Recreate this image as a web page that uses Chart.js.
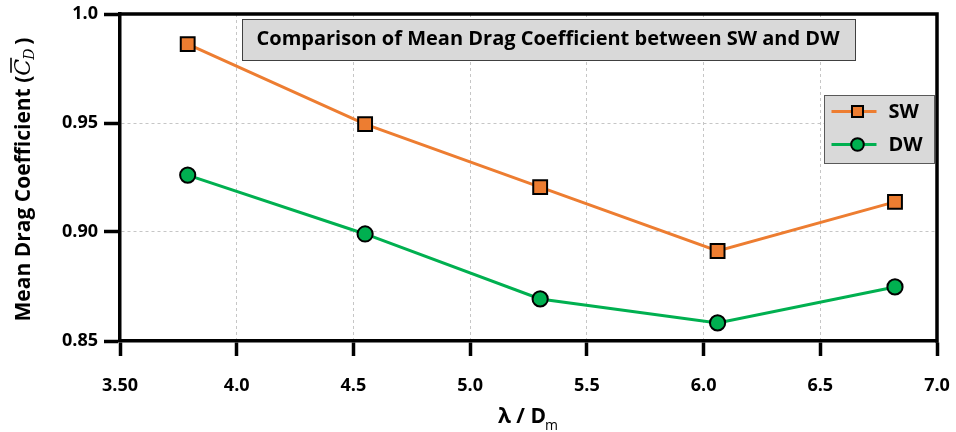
<!DOCTYPE html>
<html>
<head>
<meta charset="utf-8">
<script src="https://cdn.jsdelivr.net/npm/chart.js@4.4.1/dist/chart.umd.min.js"></script>
<style>
html, body { margin: 0; padding: 0; background: #fff; }
#wrap { width: 956px; height: 432px; }
</style>
</head>
<body>
<div id="wrap"><canvas id="dragChart" width="956" height="432"></canvas></div>
<script>
// Mean drag coefficient vs. wavelength ratio
const lambdaRatio = [3.79, 4.55, 5.30, 6.06, 6.82];
const swDrag = [0.9862, 0.9495, 0.9206, 0.8913, 0.9138];
const dwDrag = [0.9261, 0.8991, 0.8693, 0.8583, 0.8748];
const seriesNames = ['SW', 'DW'];

const xTickValues = [3.5, 4.0, 4.5, 5.0, 5.5, 6.0, 6.5, 7.0];
const xTickLabels = ['3.50', '4.0', '4.5', '5.0', '5.5', '6.0', '6.5', '7.0'];
const yTickValues = [0.85, 0.90, 0.95, 1.0];
const yTickLabels = ['0.85', '0.90', '0.95', '1.0'];

const chartTitle = 'Comparison of Mean Drag Coefficient between SW and DW';

const FONT = '"Open Sans", "DejaVu Sans", sans-serif';
const ORANGE = '#ED7D31';
const GREEN = '#00B050';
const AXIS_W = 3.5;

function toPoints(xs, ys) {
    return xs.map((x, i) => ({ x: x, y: ys[i] }));
}

// keep the plot box fixed: the layout padding alone decides the chart area
function fixScaleSize(prop, size) {
    return function(scale) {
        scale[prop] = size;
        scale.paddingLeft = scale.paddingRight = 0;
        scale.paddingTop = scale.paddingBottom = 0;
    };
}

// frame, title box, legend box and axis titles
const decorations = {
    id: 'decorations',
    afterDraw(chart) {
        const ctx = chart.ctx;
        const a = chart.chartArea;
        ctx.save();

        // top and right edges of the frame
        ctx.strokeStyle = '#000';
        ctx.lineWidth = AXIS_W;
        ctx.beginPath();
        ctx.moveTo(a.left - AXIS_W / 2, a.top);
        ctx.lineTo(a.right, a.top);
        ctx.lineTo(a.right, a.bottom + AXIS_W / 2);
        ctx.stroke();

        // title box
        ctx.font = 'bold 20px ' + FONT;
        const tw = ctx.measureText(chartTitle).width;
        const cx = a.left + 428;
        const bw = Math.round(tw + 30);
        const bx = Math.round(cx - bw / 2) + 0.5;
        const by = a.top + 5.5;
        ctx.fillStyle = '#d9d9d9';
        ctx.fillRect(bx, by, bw, 41);
        ctx.strokeStyle = '#404040';
        ctx.lineWidth = 1;
        ctx.strokeRect(bx, by, bw, 41);
        ctx.fillStyle = '#000';
        ctx.textAlign = 'center';
        ctx.textBaseline = 'middle';
        ctx.fillText(chartTitle, cx, by + 20);

        // legend box
        const lx = a.right - 112.5, ly = a.top + 81.5;
        ctx.fillStyle = '#d9d9d9';
        ctx.fillRect(lx, ly, 110, 68);
        ctx.strokeStyle = '#595959';
        ctx.strokeRect(lx, ly, 110, 68);
        chart.data.datasets.forEach((ds, i) => {
            const y = ly + 16 + i * 33;
            ctx.strokeStyle = ds.borderColor;
            ctx.lineWidth = 3;
            ctx.beginPath();
            ctx.moveTo(lx + 7, y);
            ctx.lineTo(lx + 52, y);
            ctx.stroke();
            ctx.fillStyle = ds.pointBackgroundColor;
            ctx.strokeStyle = '#000';
            ctx.lineWidth = 2;
            Chart.helpers.drawPoint(ctx, {
                pointStyle: ds.pointStyle,
                radius: ds.pointStyle === 'rect' ? 7.8 : 6.3,
                borderWidth: 2
            }, lx + 33, y);
            ctx.fillStyle = '#000';
            ctx.font = 'bold 20px ' + FONT;
            ctx.textAlign = 'left';
            ctx.textBaseline = 'middle';
            ctx.fillText(ds.label, lx + 64, y + 1);
        });

        // y axis title: Mean Drag Coefficient (C̄_D)
        ctx.save();
        ctx.translate(30, (a.top + a.bottom) / 2 + 2);
        ctx.rotate(-Math.PI / 2);
        ctx.textBaseline = 'alphabetic';
        ctx.textAlign = 'left';
        const partA = 'Mean Drag Coefficient (';
        const boldFont = 'bold 21px ' + FONT;
        const mathFont = 'italic 22px "DejaVu Serif", serif';
        const subFont = 'italic 14px "DejaVu Serif", serif';
        ctx.font = boldFont;
        const wA = ctx.measureText(partA).width;
        const wClose = ctx.measureText(')').width;
        ctx.font = mathFont;
        const wC = ctx.measureText('C').width;
        ctx.font = subFont;
        const wD = ctx.measureText('D').width;
        const total = wA + wC + wD + 3 + wClose;
        let x0 = -total / 2;
        ctx.fillStyle = '#000';
        ctx.font = boldFont;
        ctx.fillText(partA, x0, 0);
        x0 += wA;
        ctx.font = mathFont;
        ctx.fillText('C', x0, 0);
        ctx.lineWidth = 1.6;
        ctx.strokeStyle = '#000';
        ctx.beginPath();
        ctx.moveTo(x0 + 3, -19);
        ctx.lineTo(x0 + wC + 1, -19);
        ctx.stroke();
        x0 += wC;
        ctx.font = subFont;
        ctx.fillText('D', x0 - 1, 4);
        x0 += wD + 3;
        ctx.font = boldFont;
        ctx.fillText(')', x0, 0);
        ctx.restore();

        // x axis title: λ / D_m
        ctx.font = 'bold 21px ' + FONT;
        ctx.textAlign = 'left';
        ctx.textBaseline = 'alphabetic';
        const xt = 'λ / D';
        const wx = ctx.measureText(xt).width;
        ctx.font = '14px ' + FONT;
        const wm = ctx.measureText('m').width;
        const sx = (a.left + a.right) / 2 - (wx + wm) / 2;
        ctx.font = 'bold 21px ' + FONT;
        ctx.fillText(xt, sx, 423);
        ctx.font = '14px ' + FONT;
        ctx.fillText('m', sx + wx - 1, 430);

        ctx.restore();
    }
};

const ctx = document.getElementById('dragChart');
new Chart(ctx, {
    type: 'line',
    data: {
        datasets: [{
            label: seriesNames[0],
            data: toPoints(lambdaRatio, swDrag),
            borderColor: ORANGE,
            backgroundColor: ORANGE,
            pointBackgroundColor: ORANGE,
            pointBorderColor: '#000',
            pointBorderWidth: 2,
            pointStyle: 'rect',
            pointRadius: 9.8,
            borderWidth: 3
        }, {
            label: seriesNames[1],
            data: toPoints(lambdaRatio, dwDrag),
            borderColor: GREEN,
            backgroundColor: GREEN,
            pointBackgroundColor: GREEN,
            pointBorderColor: '#000',
            pointBorderWidth: 2,
            pointStyle: 'circle',
            pointRadius: 7.6,
            borderWidth: 3
        }]
    },
    options: {
        responsive: false,
        animation: false,
        devicePixelRatio: 1,
        layout: {
            padding: { left: 0, top: 14, right: 19, bottom: 0 }
        },
        plugins: {
            legend: { display: false },
            title: { display: false },
            tooltip: { enabled: false }
        },
        scales: {
            x: {
                type: 'linear',
                min: 3.5,
                max: 7.0,
                afterFit: fixScaleSize('height', 91),
                afterBuildTicks(scale) {
                    scale.ticks = xTickValues.map(v => ({ value: v }));
                },
                grid: {
                    color: '#c6c6c6',
                    lineWidth: 1,
                    tickLength: 15,
                    tickWidth: AXIS_W,
                    tickColor: '#000'
                },
                border: { color: '#000', width: AXIS_W, dash: [3, 3] },
                ticks: {
                    padding: 19,
                    maxRotation: 0,
                    color: '#000',
                    font: { family: FONT, size: 18, weight: 'bold' },
                    callback: (value, index) => xTickLabels[index]
                }
            },
            y: {
                type: 'linear',
                min: 0.85,
                max: 1.0,
                afterFit: fixScaleSize('width', 120),
                afterBuildTicks(scale) {
                    scale.ticks = yTickValues.map(v => ({ value: v }));
                },
                grid: {
                    color: '#c6c6c6',
                    lineWidth: 1,
                    tickLength: 16,
                    tickWidth: AXIS_W,
                    tickColor: '#000'
                },
                border: { color: '#000', width: AXIS_W, dash: [3, 3] },
                ticks: {
                    padding: 6,
                    color: '#000',
                    font: { family: FONT, size: 18, weight: 'bold' },
                    callback: (value, index) => yTickLabels[index]
                }
            }
        }
    },
    plugins: [decorations]
});
</script>
</body>
</html>
